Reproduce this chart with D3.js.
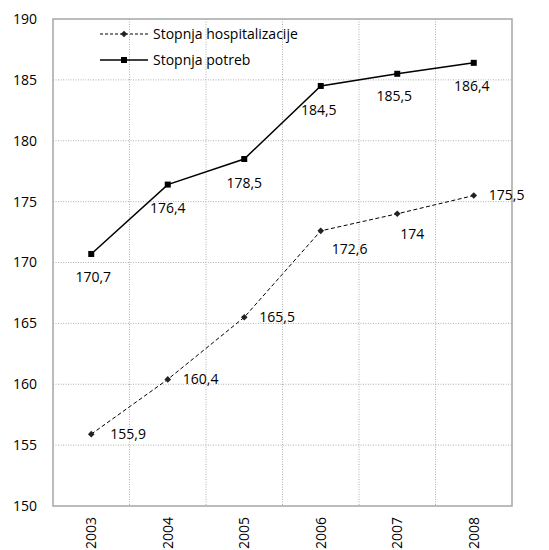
<!DOCTYPE html>
<html><head><meta charset="utf-8">
<script src="https://cdn.jsdelivr.net/npm/d3@7"></script>
<style>body{margin:0;background:#fff}svg{display:block}text{font-family:"Open Sans",sans-serif;fill:#000}</style>
</head><body>
<script>
const years = ["2003","2004","2005","2006","2007","2008"];
const hospitalizacija = [155.9,160.4,165.5,172.6,174,175.5];
const potrebe = [170.7,176.4,178.5,184.5,185.5,186.4];
const hospLabels = ["155,9","160,4","165,5","172,6","174","175,5"];
const potrLabels = ["170,7","176,4","178,5","184,5","185,5","186,4"];
const yTicks = [150,155,160,165,170,175,180,185,190];
const seriesNames = ["Stopnja hospitalizacije","Stopnja potreb"];

const W=549,H=550;
const m={l:53,r:37,t:19,b:44};
const svg=d3.select("body").append("svg").attr("width",W).attr("height",H);
const x=d3.scaleBand().domain(years).range([m.l,W-m.r]);
const y=d3.scaleLinear().domain([150,190]).range([H-m.b,m.t]);
const g=svg.append("g");
// grid
g.selectAll(".hg").data(yTicks.slice(1,-1)).join("line")
 .attr("x1",m.l).attr("x2",W-m.r).attr("y1",d=>y(d)).attr("y2",d=>y(d))
 .attr("stroke","#b0b0b0").attr("stroke-dasharray","1,1.5");
g.selectAll(".vg").data(years.slice(1)).join("line")
 .attr("x1",d=>x(d)).attr("x2",d=>x(d)).attr("y1",m.t).attr("y2",H-m.b)
 .attr("stroke","#b0b0b0").attr("stroke-dasharray","1,1.5");
g.append("rect").attr("x",m.l).attr("y",m.t).attr("width",W-m.r-m.l).attr("height",H-m.b-m.t)
 .attr("fill","none").attr("stroke","#a6a6a6").attr("stroke-width",1.5);
// y axis
const ya=d3.axisLeft(y).tickValues(yTicks).tickSize(0).tickPadding(16);
const yg=svg.append("g").attr("transform",`translate(${m.l},0)`).call(ya);
yg.select(".domain").remove();
yg.selectAll("text").style("font-size","14px").attr("fill","#000");
// x axis
const xa=d3.axisBottom(x).tickSize(0).tickPadding(0);
const xg=svg.append("g").attr("transform",`translate(0,${H-m.b})`).call(xa);
xg.select(".domain").remove();
xg.selectAll("text").style("font-size","14px")
 .attr("transform","rotate(-90)").attr("text-anchor","end").attr("x",-11).attr("y",0).attr("dy","0.35em");

const cx=d=>x(d)+x.bandwidth()/2;
const line=d3.line().x((d,i)=>cx(years[i])).y(d=>y(d));
const diamondPath=d3.symbol().type(d3.symbolSquare).size(22);
// potrebe
svg.append("path").datum(potrebe).attr("d",line).attr("fill","none").attr("stroke","#000").attr("stroke-width",1.5);
svg.selectAll(".sq").data(potrebe).join("rect")
 .attr("x",(d,i)=>cx(years[i])-3).attr("y",d=>y(d)-3).attr("width",6).attr("height",6).attr("fill","#000");
// hosp
svg.append("path").datum(hospitalizacija).attr("d",line).attr("fill","none").attr("stroke","#000").attr("stroke-width",1).attr("stroke-dasharray","4,2.5");
svg.selectAll(".dm").data(hospitalizacija).join("path")
 .attr("d",diamondPath)
 .attr("transform",(d,i)=>`translate(${cx(years[i])},${y(d)}) rotate(45)`).attr("fill","#222");
// labels potrebe (below)
const potrOff=[[2,23],[0,24],[0,24],[-2,24],[-3,22],[-2,23]];
svg.selectAll(".pl").data(potrebe).join("text")
 .attr("x",(d,i)=>cx(years[i])+potrOff[i][0]).attr("y",(d,i)=>y(d)+potrOff[i][1])
 .attr("dy","0.35em").attr("text-anchor","middle").style("font-size","14px")
 .text((d,i)=>potrLabels[i]);
const hospOff=[[19,0],[15,0],[15,0],[11,18],[3,20],[15,0]];
svg.selectAll(".hl").data(hospitalizacija).join("text")
 .attr("x",(d,i)=>cx(years[i])+hospOff[i][0]).attr("y",(d,i)=>y(d)+hospOff[i][1])
 .attr("dy","0.35em").attr("text-anchor","start").style("font-size","14px")
 .text((d,i)=>hospLabels[i]);
// legend
const lg=svg.append("g");
lg.append("line").attr("x1",100).attr("x2",148).attr("y1",34).attr("y2",34).attr("stroke","#000").attr("stroke-dasharray","3,2");
lg.append("path").attr("d",diamondPath).attr("transform","translate(124,34) rotate(45)").attr("fill","#222");
lg.append("text").attr("x",153).attr("y",34).attr("dy","0.35em").style("font-size","14px").text(seriesNames[0]);
lg.append("line").attr("x1",100).attr("x2",148).attr("y1",60).attr("y2",60).attr("stroke","#000").attr("stroke-width",1.5);
lg.append("rect").attr("x",121).attr("y",57).attr("width",6).attr("height",6).attr("fill","#000");
lg.append("text").attr("x",153).attr("y",60).attr("dy","0.35em").style("font-size","14px").text(seriesNames[1]);
</script>
</body></html>
